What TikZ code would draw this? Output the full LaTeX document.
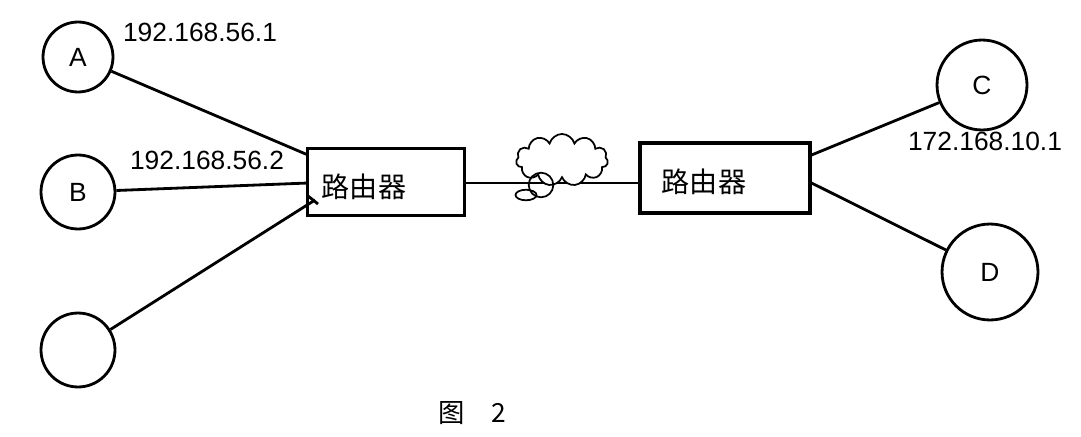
\documentclass[tikz,border=0pt]{standalone}
\usepackage{fontspec}
\setmainfont{Liberation Sans}
\newfontfamily\cjk{Noto Sans CJK SC}
\usetikzlibrary{shapes.symbols}
\begin{document}
\begin{tikzpicture}[x=0.02cm,y=-0.02cm,line width=1.6pt,
	host/.style={draw,circle,minimum size=#1*0.04cm,inner sep=0pt,font=\fontsize{15}{17}\selectfont},
	router/.style={draw,line width=1.8pt,rectangle,minimum width=157*0.02cm,minimum height=67*0.02cm},
	rlabel/.style={font=\cjk\fontsize{16}{18}\selectfont},
	addr/.style={font=\fontsize{15}{17}\selectfont}]
	\useasboundingbox (0,0) rectangle (1081,436);
	% hosts
	\node[host=35] (A) at (78,57) {A};
	\node[host=37] (B) at (78,192) {B};
	\node[host=37] (E) at (78,350) {};
	\node[host=45] (C) at (982,85) {C};
	\node[host=48] (D) at (990,272) {D};
	% routers
	\node[router] (R1) at (386,182) {};
	\node[rlabel] (R1t) at (364,187) {路由器};
	\node[router,minimum width=170*0.02cm,minimum height=70*0.02cm] (R2) at (725,178) {};
	\node[rlabel] (R2t) at (704,182) {路由器};
	% links
	\coordinate (p1) at (308,155);
	\coordinate (p2) at (308,183);
	\coordinate (p3) at (315,200);
	\draw (A) -- (p1);
	\draw (B) -- (p2);
	\draw (E) -- (p3);
	\draw (308,196) -- (318,204);
	\draw (R1.east |- 0,183) -- (R2.west |- 0,183);
	\draw (R2.east |- 0,155) -- (C);
	\draw (R2.east |- 0,183) -- (D);
	% cloud
	\node[cloud,draw,line width=1pt,fill=white,cloud puffs=11,minimum width=92*0.02cm,minimum height=52*0.02cm] (cl) at (562,160) {};
	\draw[line width=1pt] (541,185) circle (7pt);
	\draw[line width=1pt] (526,195) ellipse (6pt and 3pt);
	\draw (R1.east |- 0,183) -- (cl.west |- 0,183);
	% labels
	\node[addr] (aA) at (200,32) {192.168.56.1};
	\node[addr] (aB) at (207,160) {192.168.56.2};
	\node[addr] (aC) at (985,141) {172.168.10.1};
	\node[font=\cjk\fontsize{15}{17}\selectfont] (cap) at (472,413) {图\quad 2};
\end{tikzpicture}
\end{document}
